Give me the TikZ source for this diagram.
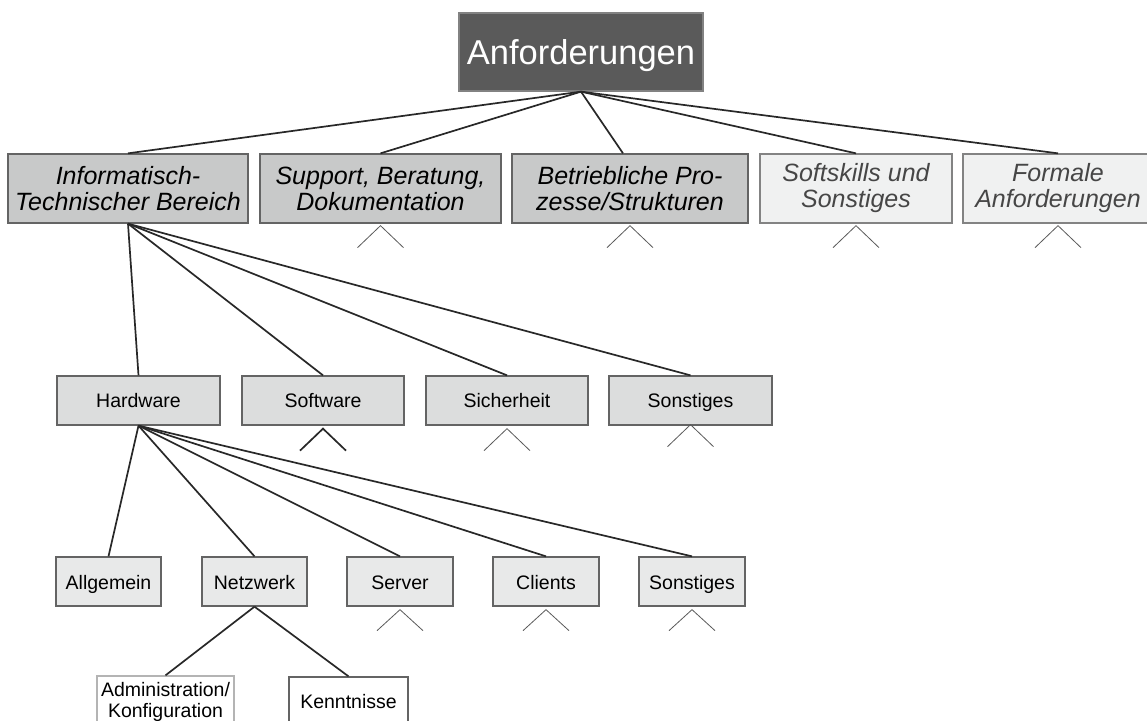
\documentclass[tikz,border=0pt]{standalone}
\usepackage{fontspec}
\setmainfont{Liberation Sans}
\usetikzlibrary{calc}
\definecolor{topfill}{RGB}{90,90,90}
\definecolor{topborder}{RGB}{130,130,130}
\definecolor{midfill}{RGB}{200,201,201}
\definecolor{palefill}{RGB}{240,241,241}
\definecolor{palefont}{RGB}{70,70,70}
\definecolor{thirdfill}{RGB}{220,221,221}
\definecolor{fourthfill}{RGB}{232,233,233}
\definecolor{boxborder}{RGB}{100,100,100}
\definecolor{lightborder}{RGB}{180,180,180}
\definecolor{linecol}{RGB}{40,40,40}
\definecolor{caretcol}{RGB}{90,90,90}
\begin{document}
\begin{tikzpicture}[x=1pt,y=-1pt,
  basebox/.style={rectangle,inner sep=0pt,align=center,line width=1.3pt,draw=boxborder},
  topbox/.style={basebox,draw=topborder,fill=topfill,text=white,minimum width=244pt,minimum height=78pt,text depth=0pt,font=\fontsize{34.5}{40}\selectfont},
  lvlone/.style={basebox,fill=midfill,minimum height=69pt,font=\fontsize{25}{26}\selectfont\itshape},
  lvlpale/.style={lvlone,fill=palefill,text=palefont,draw=boxborder!80},
  lvltwo/.style={basebox,fill=thirdfill,minimum height=49pt,text height=19pt,text depth=4.5pt,font=\fontsize{19.5}{21}\selectfont},
  lvlthree/.style={basebox,fill=fourthfill,minimum height=49pt,minimum width=106pt,text height=19.5pt,text depth=4pt,font=\fontsize{19.5}{21}\selectfont},
  lvlfour/.style={basebox,fill=white,font=\fontsize{19.5}{20.5}\selectfont},
  conn/.style={draw=linecol,line width=1.7pt},
  caretline/.style={draw=caretcol,line width=0.8pt},
  boldcaret/.style={draw=linecol,line width=1.7pt}
]
\useasboundingbox (0,0) rectangle (1147,720);
\fill[white] (0,0) rectangle (1147,720);

% top
\node[topbox] (anf) at (581,52) {Anforderungen};

% level one
\node[lvlone,minimum width=240pt] (inf) at (128,188.5) {Informatisch-\\Technischer Bereich};
\node[lvlone,minimum width=241pt] (sup) at (380.5,188.5) {Support, Beratung,\\Dokumentation};
\node[lvlone,minimum width=236pt] (bet) at (630,188.5) {Betriebliche Pro-\\zesse/Strukturen};
\node[lvlpale,minimum width=192pt] (soft) at (856,188.5) {Softskills und\\Sonstiges};
\node[lvlpale,minimum width=190pt] (form) at (1058,188.5) {Formale\\Anforderungen};

% level two
\node[lvltwo,minimum width=163pt] (hw) at (138.5,400.5) {Hardware};
\node[lvltwo,minimum width=162pt] (sw) at (323,400.5) {Software};
\node[lvltwo,minimum width=162pt] (sich) at (507,400.5) {Sicherheit};
\node[lvltwo,minimum width=163pt] (sonsta) at (690.5,400.5) {Sonstiges};

% level three
\node[lvlthree,minimum width=105pt] (allg) at (108.5,581.5) {Allgemein};
\node[lvlthree,minimum width=105pt] (netz) at (254.5,581.5) {Netzwerk};
\node[lvlthree] (serv) at (400,581.5) {Server};
\node[lvlthree] (cli) at (546,581.5) {Clients};
\node[lvlthree] (sonstb) at (692,581.5) {Sonstiges};

% level four
\node[lvlfour,draw=lightborder,minimum width=137pt,minimum height=52pt] (adm) at (165.5,702) {Administration/\\Konfiguration};
\node[lvlfour,draw=boxborder,minimum width=119pt,minimum height=50pt] (kenn) at (348.5,702) {Kenntnisse};

% connectors
\draw[conn] (anf.south) -- (inf.north);
\draw[conn] (anf.south) -- (sup.north);
\draw[conn] (anf.south) -- ([xshift=-7pt]bet.north);
\draw[conn] (anf.south) -- (soft.north);
\draw[conn] (anf.south) -- (form.north);
\foreach \t in {hw,sw,sich,sonsta}
  \draw[conn] (inf.south) -- (\t.north);
\foreach \t in {allg,netz,serv,cli,sonstb}
  \draw[conn] (hw.south) -- (\t.north);
\foreach \t in {adm,kenn}
  \draw[conn] (netz.south) -- (\t.north);

% carets
\foreach \n in {sup,bet,soft,form}
  \draw[caretline] ($(\n.south)+(-23,24)$) -- ($(\n.south)+(0,2)$) -- ($(\n.south)+(23,24)$);
\draw[boldcaret] ($(sw.south)+(-23,25)$) -- ($(sw.south)+(0,3)$) -- ($(sw.south)+(23,25)$);
\draw[caretline] ($(sich.south)+(-23,25)$) -- ($(sich.south)+(0,3)$) -- ($(sich.south)+(23,25)$);
\draw[caretline] ($(sonsta.south)+(-23,21)$) -- ($(sonsta.south)+(0,-1)$) -- ($(sonsta.south)+(23,21)$);
\foreach \n in {serv,cli,sonstb}
  \draw[caretline] ($(\n.south)+(-23,24)$) -- ($(\n.south)+(0,3)$) -- ($(\n.south)+(23,24)$);
\end{tikzpicture}
\end{document}
